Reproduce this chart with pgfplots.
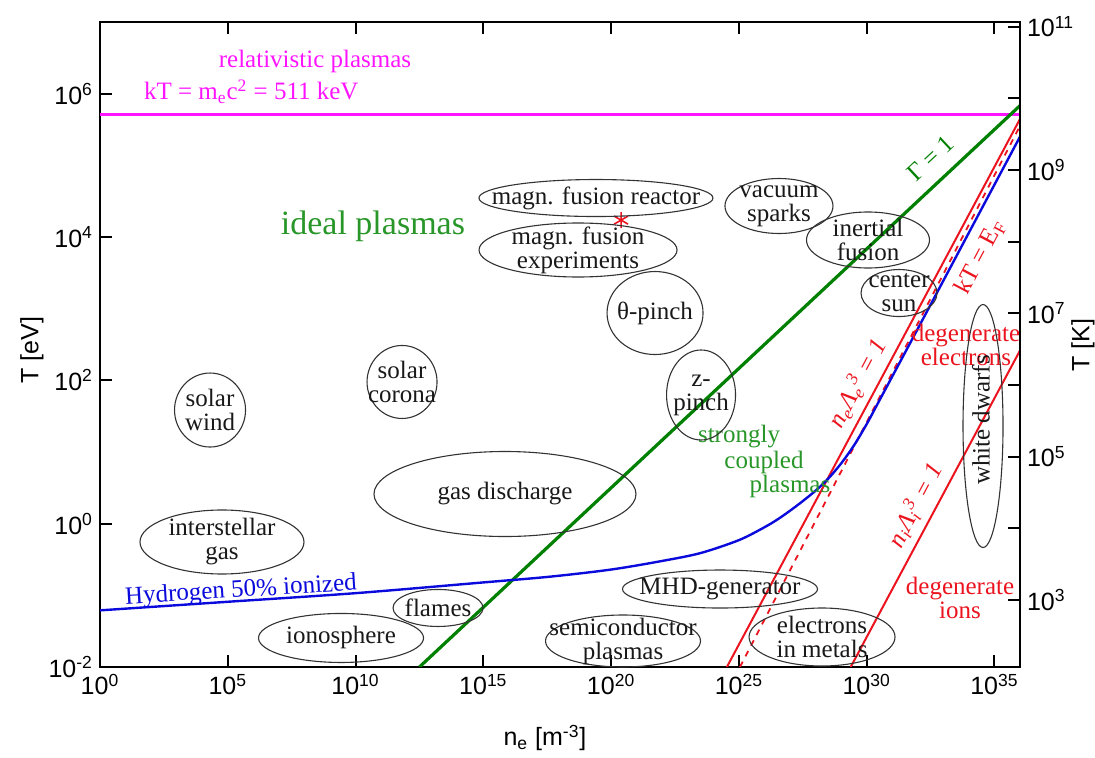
\documentclass[border=0pt]{standalone}
\usepackage{fontspec}
\setmainfont{Liberation Serif}
\setsansfont{Liberation Sans}
\usepackage{pgfplots}
\pgfplotsset{compat=1.18}
\usetikzlibrary{shapes.geometric}

\definecolor{mag}{RGB}{255,20,255}
\definecolor{dgreen}{RGB}{0,128,0}
\definecolor{tgreen}{RGB}{40,150,40}
\definecolor{lred}{RGB}{235,20,30}
\definecolor{dblue}{RGB}{10,10,220}

\newcommand{\afont}{\fontsize{12.5}{12}\selectfont}
\newcommand{\tfont}{\sffamily\fontsize{12.5}{14}\selectfont}
\newcommand{\ellip}[5]{%
  \node[ellipse,draw=black!80,line width=0.55pt,minimum width=#3,minimum height=#4,inner sep=0pt] at (rel axis cs:#1,#2) {};
  \node[align=center,font=\afont,inner sep=0pt,text=black!90] at (rel axis cs:#1,#2) {#5};}

\begin{document}
\begin{tikzpicture}
\begin{axis}[name=main, scale only axis, width=460pt, height=322.5pt,
  xmode=log, ymode=log, xmin=1, xmax=1e36, ymin=1e-2, ymax=1e7,
  xtick={1,1e5,1e10,1e15,1e20,1e25,1e30,1e35},
  xticklabels={10\textsuperscript{0},10\textsuperscript{5},10\textsuperscript{10},10\textsuperscript{15},10\textsuperscript{20},10\textsuperscript{25},10\textsuperscript{30},10\textsuperscript{35}},
  ytick={1e-2,1,1e2,1e4,1e6},
  yticklabels={10\textsuperscript{-2},10\textsuperscript{0},10\textsuperscript{2},10\textsuperscript{4},10\textsuperscript{6}},
  xminorticks=false, yminorticks=false,
  tick align=inside, major tick length=6pt,
  ytick pos=left, xtick pos=both, xticklabel pos=lower,
  tick label style={font=\tfont},
  label style={font=\tfont},
  xlabel={n\textsubscript{e} [m\textsuperscript{-3}]},
  ylabel={T [eV]},
  xlabel style={at={(rel axis cs:0.4837,0)}, anchor=center, yshift=-35.5pt},
  ylabel style={at={(rel axis cs:0,0.4915)}, anchor=center, rotate=0, yshift=34pt},
  axis line style={line width=1pt}, tick style={line width=1pt, black},
  clip mode=individual,
]
\addplot[mag, line width=1.2pt] coordinates {(1,5.11e5) (1e36,5.11e5)};
\addplot[dgreen, line width=1.6pt] coordinates {(3.16e12,0.01) (1e36,6.81e5)};
\addplot[lred, line width=1pt] coordinates {(3.39e24,0.01) (1e36,4.43e5)};
\addplot[lred, line width=0.9pt, dashed] coordinates {(1.1e25,0.01) (1e36,3.55e5)};
\addplot[lred, line width=1pt] coordinates {(2.37e29,0.01) (1e36,261)};
\addplot[dblue, line width=1.2pt, smooth] coordinates {
 (1,0.0617) (1e5,0.0813) (1e10,0.1072) (1e15,0.1514) (3.98e17,0.182)
 (1e20,0.229) (1e22,0.302) (3.16e23,0.389) (1e25,0.589) (1e26,0.891)
 (3.98e26,1.202) (2e27,1.82) (1e28,2.884) (3.16e28,4.266) (1e29,6.92)
 (3.16e29,12.3) (1e30,24.5) (3.16e30,52.5) (1e32,525) (1e34,1.15e4) (1e36,2.51e5)};
\addplot[only marks, mark=asterisk, mark size=4pt, lred, line width=0.8pt] coordinates {(2.45e20,1.72e4)};

% texts
\node[text=mag, font=\afont] at (rel axis cs:0.2337,0.938) {relativistic plasmas};
\node[text=mag, font=\afont, anchor=west] at (rel axis cs:0.0402,0.892) {kT = m\textsubscript{e}c\textsuperscript{2} = 511 keV};
\node[text=tgreen, font=\fontsize{17}{18}\selectfont] at (rel axis cs:0.2967,0.6837) {ideal plasmas};
\node[text=tgreen, font=\afont] at (rel axis cs:0.6946,0.3566) {strongly};
\node[text=tgreen, font=\afont] at (rel axis cs:0.7217,0.3163) {coupled};
\node[text=tgreen, font=\afont] at (rel axis cs:0.75,0.2791) {plasmas};
\node[text=dblue, font=\afont, rotate=3.5] at (rel axis cs:0.1533,0.1178) {Hydrogen 50\% ionized};
\node[text=lred, font=\afont, align=center] at (rel axis cs:0.9413,0.4992) {degenerate\\electrons};
\node[text=lred, font=\afont, align=center] at (rel axis cs:0.9348,0.107) {degenerate\\ions};
\node[text=lred, font=\afont, rotate=62] at (rel axis cs:0.9565,0.6357) {kT = E\textsubscript{F}};
\node[text=lred, font=\afont, rotate=62] at (rel axis cs:0.8228,0.4403) {\textit{n\textsubscript{e}Λ\textsubscript{e}\textsuperscript{3} = 1}};
\node[text=lred, font=\afont, rotate=62] at (rel axis cs:0.8859,0.2512) {\textit{n\textsubscript{i}Λ\textsubscript{i}\textsuperscript{3} = 1}};
\node[text=dgreen, font=\afont, rotate=43] at (rel axis cs:0.9022,0.789) {Γ = 1};

% ellipses
\ellip{0.5391}{0.7271}{117pt}{18.5pt}{magn. fusion reactor}
\ellip{0.5196}{0.6465}{99pt}{27pt}{magn. fusion\\experiments}
\ellip{0.738}{0.7147}{54pt}{27.5pt}{vacuum\\sparks}
\ellip{0.8348}{0.662}{61.5pt}{28pt}{inertial\\fusion}
\ellip{0.8685}{0.5798}{38pt}{23.5pt}{center\\sun}
\ellip{0.6033}{0.5488}{48pt}{41.5pt}{θ-pinch}
\ellip{0.3283}{0.4419}{35pt}{36.5pt}{solar\\corona}
\ellip{0.1196}{0.3984}{35.5pt}{37pt}{solar\\wind}
\ellip{0.6533}{0.4217}{34.5pt}{45pt}{z-\\pinch}
\ellip{0.4402}{0.2682}{131pt}{42.5pt}{gas discharge}
\ellip{0.1326}{0.1938}{82pt}{32pt}{interstellar\\gas}
\ellip{0.6739}{0.1209}{97.5pt}{19pt}{MHD-generator}
\ellip{0.3674}{0.0915}{45pt}{18.5pt}{flames}
\ellip{0.262}{0.045}{82.5pt}{24.5pt}{ionosphere}
\ellip{0.5685}{0.0403}{77.5pt}{26pt}{semiconductor\\plasmas}
\ellip{0.7848}{0.0465}{73pt}{29pt}{electrons\\in metals}
\node[ellipse,draw=black!80,line width=0.55pt,minimum width=20pt,minimum height=121.5pt,inner sep=0pt] at (rel axis cs:0.9598,0.3736) {};
\node[font=\afont, rotate=90, text=black!90] at (rel axis cs:0.9575,0.383) {white dwarfs};
\end{axis}

\begin{axis}[scale only axis, width=460pt, height=322.5pt,
  xmode=log, ymode=log, xmin=1, xmax=1e36, ymin=116.045, ymax=1.16045e11,
  hide x axis, axis y line*=right,
  ytick={1e3,1e4,1e5,1e6,1e7,1e8,1e9,1e10,1e11},
  yticklabels={10\textsuperscript{3},,10\textsuperscript{5},,10\textsuperscript{7},,10\textsuperscript{9},,10\textsuperscript{11}},
  yminorticks=false,
  tick align=inside, major tick length=6pt,
  tick label style={font=\tfont},
  label style={font=\tfont},
  ylabel={T [K]},
  ylabel style={at={(rel axis cs:1,0.4992)}, anchor=center, rotate=0, yshift=-31.5pt},
  axis line style={line width=1pt}, tick style={line width=1pt, black},
]
\addplot[draw=none] coordinates {(1,1e3)};
\end{axis}

\pgfresetboundingbox
\path[use as bounding box] ([xshift=-50pt,yshift=-45.5pt]main.south west) rectangle ([xshift=37.5pt,yshift=11pt]main.north east);
\end{tikzpicture}
\end{document}
